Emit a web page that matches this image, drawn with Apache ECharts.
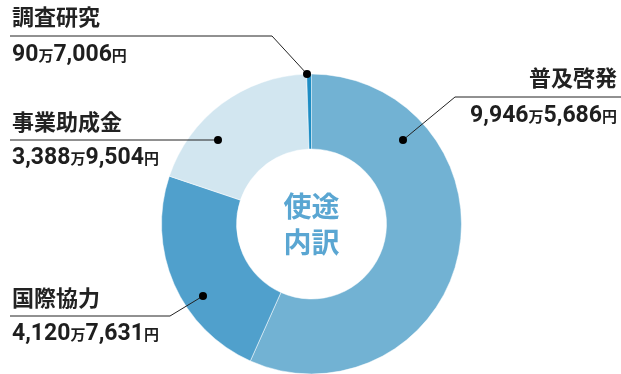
<!DOCTYPE html>
<html>
<head>
<meta charset="utf-8">
<script src="https://cdn.jsdelivr.net/npm/echarts@6/dist/echarts.min.js"></script>
<style>
  html, body { margin: 0; padding: 0; background: #fff; }
  #main { width: 621px; height: 374px; }
</style>
</head>
<body>
<div id="main"></div>
<script>
// 使途内訳のデータ（円）
const categories = ['普及啓発', '国際協力', '事業助成金', '調査研究'];
const amounts = [99465686, 41207631, 33889504, 907006];
const colors = ['#72b2d3', '#50a0cc', '#d2e6f0', '#1e8dc4'];

const chart = echarts.init(document.getElementById('main'));

// 9,946万5,686円 の形に整形
function fmt(v) {
  const man = Math.floor(v / 10000);
  const rest = String(v % 10000).padStart(4, '0');
  return '{n|' + man.toLocaleString('en-US') + '}{u|万}{n|' + rest.slice(0, 1) + ',' + rest.slice(1) + '}{u|円}';
}

const rich = {
  n: { fontFamily: 'Roboto', fontWeight: 'bold', fontSize: 23, fill: '#1e1e1e' },
  u: { fontFamily: 'Noto Sans CJK JP', fontWeight: 'bold', fontSize: 15, fill: '#1e1e1e' }
};

// ラベルの配置（注記）
const labelPos = [
  { x: 617, align: 'right', ty: 78, vy: 116.5, line: [[621, 97], [455, 97], [403, 140]] },
  { x: 12, align: 'left', ty: 298, vy: 334, line: [[10, 316], [170, 316], [203, 296]] },
  { x: 12, align: 'left', ty: 122, vy: 158.5, line: [[10, 140], [218, 140]] },
  { x: 12, align: 'left', ty: 17, vy: 55, line: [[10, 36], [272, 36], [307, 74]] }
];

const graphics = [];
categories.forEach(function (name, i) {
  const p = labelPos[i];
  graphics.push({
    type: 'polyline', z: 10,
    shape: { points: p.line },
    style: { stroke: '#222', lineWidth: 1, fill: null }
  });
  const end = p.line[p.line.length - 1];
  graphics.push({
    type: 'circle', z: 11,
    shape: { cx: end[0], cy: end[1], r: 4 },
    style: { fill: '#000' }
  });
  graphics.push({
    type: 'text', z: 10, x: p.x, y: p.ty,
    style: {
      text: name, fontFamily: 'Noto Sans CJK JP', fontWeight: 'bold', fontSize: 22,
      fill: '#222', align: p.align, verticalAlign: 'middle'
    }
  });
  graphics.push({
    type: 'text', z: 10, x: p.x, y: p.vy,
    style: {
      text: fmt(amounts[i]), rich: rich,
      align: p.align, verticalAlign: 'middle'
    }
  });
});

graphics.push({
  type: 'text', z: 10, x: 311.5, y: 224,
  style: {
    text: '使途\n内訳', fontFamily: 'Noto Sans CJK JP', fontWeight: 'bold', fontSize: 28,
    lineHeight: 36, fill: '#5aa6d2', align: 'center', verticalAlign: 'middle'
  }
});

const option = {
  animation: false,
  color: colors,
  series: [{
    type: 'pie',
    center: [311.5, 224],
    radius: [75, 150],
    startAngle: 90,
    clockwise: true,
    silent: true,
    label: { show: false },
    labelLine: { show: false },
    itemStyle: { borderColor: '#fff', borderWidth: 0.5 },
    data: categories.map(function (name, i) {
      return { name: name, value: amounts[i] };
    })
  }],
  graphic: graphics
};

chart.setOption(option);
</script>
</body>
</html>
